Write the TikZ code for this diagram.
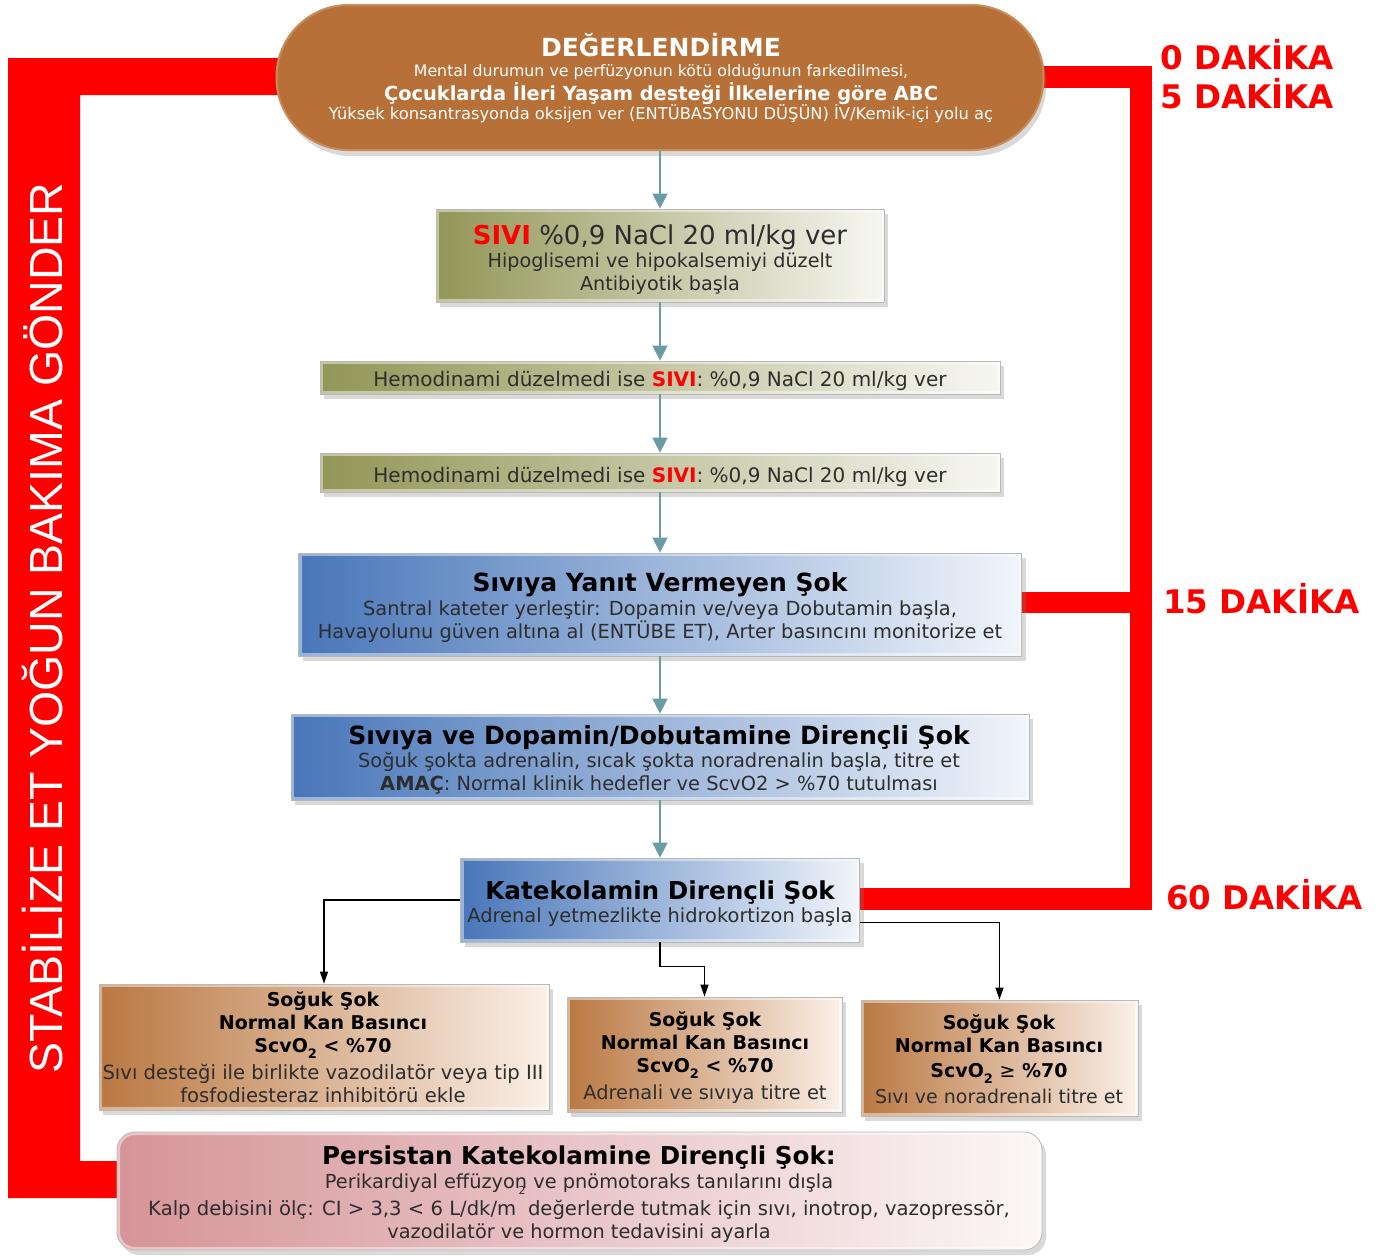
\documentclass[tikz,border=0pt]{standalone}
\usepackage{fontspec}
\setmainfont{DejaVu Sans}
\newfontfamily\libsans{Liberation Sans}
\usetikzlibrary{arrows.meta,shadows}
\newcommand\myfs[1]{\fontsize{#1}{#1}\selectfont}
\definecolor{copper}{RGB}{183,112,56}
\definecolor{copperedge}{RGB}{200,140,90}
\definecolor{olL}{RGB}{146,150,86}
\definecolor{olR}{RGB}{247,247,242}
\definecolor{blL}{RGB}{72,118,185}
\definecolor{blR}{RGB}{241,245,251}
\definecolor{brL}{RGB}{186,120,66}
\definecolor{brR}{RGB}{251,240,232}
\definecolor{pkL}{RGB}{214,148,152}
\definecolor{pkR}{RGB}{252,247,247}
\definecolor{teal1}{RGB}{106,156,166}
\definecolor{dtxt}{RGB}{45,45,45}
\tikzset{
  panel/.style={rectangle, inner sep=0pt, draw=gray!55, line width=0.8pt,
    drop shadow={shadow xshift=4pt, shadow yshift=-5pt, opacity=0.3},
    path picture={\draw[white, opacity=0.45, line width=6pt]
      (path picture bounding box.south west) rectangle (path picture bounding box.north east);}},
  pill/.style={rectangle, inner sep=0pt, rounded corners=72pt, fill=copper,
    draw=copperedge, line width=2pt,
    drop shadow={shadow xshift=3pt, shadow yshift=-6pt, opacity=0.3}},
  olive/.style={panel, left color=olL, right color=olR},
  bluebox/.style={panel, left color=blL, right color=blR},
  brownbox/.style={panel, left color=brL, right color=brR},
  pinkbox/.style={panel, rounded corners=18pt, left color=pkL, right color=pkR},
  tl/.style={inner sep=0pt, anchor=base, text=dtxt},
  tt/.style={inner sep=0pt, anchor=base, text=black},
  wl/.style={inner sep=0pt, anchor=base, text=white},
  dak/.style={inner sep=0pt, anchor=base west, text=red, font={\myfs{32.5}\bfseries}},
  flow/.style={draw=teal1, line width=1.6pt, -{Triangle[width=15pt,length=15pt]}},
  conn/.style={draw=black, line width=1.2pt, -{Triangle[width=8pt,length=12pt]}},
}
\newcommand\sivi{\textcolor{red}{\bfseries SIVI}}
\newcommand\subtwo{\raisebox{-0.35em}{\myfs{13}2}}
\begin{document}
\begin{tikzpicture}[x=1pt,y=-1pt]
\useasboundingbox (0,0) rectangle (1379,1256);
% red brackets
\fill[red] (8,58) -- (278,58) -- (278,95) -- (80,95) -- (80,1161) -- (122,1161) -- (122,1198) -- (8,1198) -- cycle;
\fill[red] (1040,66) rectangle (1152,88);
\fill[red] (1130,66) rectangle (1152,910);
\fill[red] (1018,592) rectangle (1140,613);
\fill[red] (856,888) rectangle (1140,910);
\node[rotate=90, inner sep=0pt, anchor=base, text=white, font={\libsans\myfs{46.5}}] (stab) at (62,628) {STABİLİZE ET YOĞUN BAKIMA GÖNDER};
% time labels
\node[dak] (d0) at (1160,69) {0 DAKİKA};
\node[dak] (d5) at (1160,108) {5 DAKİKA};
\node[dak] (d15) at (1163,613) {15 DAKİKA};
\node[dak] (d60) at (1166,909) {60 DAKİKA};
% boxes
\node[pill, minimum width=767pt, minimum height=145pt] (top) at (660,77.5) {};
\node[olive, minimum width=448pt, minimum height=93pt] (sivibox) at (660,255.5) {};
\node[olive, minimum width=680pt, minimum height=33pt] (bar1) at (660,377.5) {};
\node[olive, minimum width=680pt, minimum height=39pt] (bar2) at (660,472.5) {};
\node[bluebox, minimum width=723pt, minimum height=103pt] (blue1) at (660,604.5) {};
\node[bluebox, minimum width=738pt, minimum height=86pt] (blue2) at (660,757) {};
\node[bluebox, minimum width=399pt, minimum height=84pt] (kat) at (660,900) {};
\node[brownbox, minimum width=450pt, minimum height=126pt] (b1) at (324,1047) {};
\node[brownbox, minimum width=275pt, minimum height=115pt] (b2) at (704.5,1054.5) {};
\node[brownbox, minimum width=277pt, minimum height=116pt] (b3) at (999.5,1058) {};
\node[pinkbox, minimum width=925pt, minimum height=118pt] (pink) at (579.5,1191) {};
% flow arrows
\draw[flow] (top.south) -- (sivibox.north);
\draw[flow] (sivibox.south) -- (bar1.north);
\draw[flow] (bar1.south) -- (bar2.north);
\draw[flow] (bar2.south) -- (blue1.north);
\draw[flow] (blue1.south) -- (blue2.north);
\draw[flow] (blue2.south) -- (kat.north);
% black connectors
\draw[conn] (kat.west) -| (b1.north);
\draw[conn] (kat.south) -- ++(0,24) -| (b2.north);
\path (kat.south east) ++(0,-20) coordinate (kr);
\draw[conn] (kr) -| (b3.north);
% top texts
\node[wl, font={\myfs{25}\bfseries}] (t1) at (661,56) {DEĞERLENDİRME};
\node[wl, font={\myfs{15.8}}] (t2) at (661,76) {Mental durumun ve perfüzyonun kötü olduğunun farkedilmesi,};
\node[wl, font={\myfs{19.4}\bfseries}] (t3) at (661,100) {Çocuklarda İleri Yaşam desteği İlkelerine göre ABC};
\node[wl, font={\myfs{16.3}}] (t4) at (661,119) {Yüksek konsantrasyonda oksijen ver (ENTÜBASYONU DÜŞÜN) İV/Kemik-içi yolu aç};
% sivi box
\node[tl, font={\myfs{26}}] (s1) at (660,244) {\sivi\ \%0,9 NaCl 20 ml/kg ver};
\node[tl, font={\myfs{19.2}}] (s2) at (660,267) {Hipoglisemi ve hipokalsemiyi düzelt};
\node[tl, font={\myfs{19.2}}] (s3) at (660,290) {Antibiyotik başla};
% bars
\node[tl, font={\myfs{20}}] (h1) at (660,386) {Hemodinami düzelmedi ise \sivi: \%0,9 NaCl 20 ml/kg ver};
\node[tl, font={\myfs{20}}] (h2) at (660,482) {Hemodinami düzelmedi ise \sivi: \%0,9 NaCl 20 ml/kg ver};
% blue 1
\node[tt, font={\myfs{25}\bfseries}] (u1) at (660,591) {Sıvıya Yanıt Vermeyen Şok};
\node[tl, font={\myfs{19.4}}] (u2) at (660,615) {Santral kateter yerleştir: Dopamin ve/veya Dobutamin başla,};
\node[tl, font={\myfs{19.4}}] (u3) at (660,638) {Havayolunu güven altına al (ENTÜBE ET), Arter basıncını monitorize et};
% blue 2
\node[tt, font={\myfs{25.1}\bfseries}] (v1) at (659,744) {Sıvıya ve Dopamin/Dobutamine Dirençli Şok};
\node[tl, font={\myfs{19.4}}] (v2) at (659,767) {Soğuk şokta adrenalin, sıcak şokta noradrenalin başla, titre et};
\node[tl, font={\myfs{19.4}}] (v3) at (659,790) {\textbf{AMAÇ}: Normal klinik hedefler ve ScvO2 > \%70 tutulması};
% kat
\node[tt, font={\myfs{24.7}\bfseries}] (k1) at (660,899) {Katekolamin Dirençli Şok};
\node[tl, font={\myfs{19.4}}] (k2) at (660,922) {Adrenal yetmezlikte hidrokortizon başla};
% b1
\node[tt, font={\myfs{19}\bfseries}] (a1) at (323,1006) {Soğuk Şok};
\node[tt, font={\myfs{19}\bfseries}] (a2) at (323,1029) {Normal Kan Basıncı};
\node[tt, font={\myfs{19}\bfseries}] (a3) at (323,1052) {ScvO\subtwo\ < \%70};
\node[tl, font={\myfs{19.6}}] (a4) at (323,1079) {Sıvı desteği ile birlikte vazodilatör veya tip III};
\node[tl, font={\myfs{19.6}}] (a5) at (323,1102) {fosfodiesteraz inhibitörü ekle};
% b2
\node[tt, font={\myfs{19}\bfseries}] (c1) at (705,1026) {Soğuk Şok};
\node[tt, font={\myfs{19}\bfseries}] (c2) at (705,1049) {Normal Kan Basıncı};
\node[tt, font={\myfs{19}\bfseries}] (c3) at (705,1072) {ScvO\subtwo\ < \%70};
\node[tl, font={\myfs{19.4}}] (c4) at (705,1099) {Adrenali ve sıvıya titre et};
% b3
\node[tt, font={\myfs{19}\bfseries}] (e1) at (999,1029) {Soğuk Şok};
\node[tt, font={\myfs{19}\bfseries}] (e2) at (999,1052) {Normal Kan Basıncı};
\node[tt, font={\myfs{19}\bfseries}] (e3) at (999,1077) {ScvO\subtwo\ {\mdseries ≥} \%70};
\node[tl, font={\myfs{19}}] (e4) at (999,1103) {Sıvı ve noradrenali titre et};
% pink
\node[tt, font={\myfs{24.6}\bfseries}] (p1) at (579,1164) {Persistan Katekolamine Dirençli Şok:};
\node[tl, font={\myfs{19.35}}] (p2) at (579,1188) {Perikardiyal effüzyon ve pnömotoraks tanılarını dışla};
\node[tl, font={\myfs{11}}] (p2b) at (522,1194) {2};
\node[tl, font={\myfs{19.6}}] (p3) at (579,1215) {Kalp debisini ölç: CI > 3,3 < 6 L/dk/m\hspace{0.6em}değerlerde tutmak için sıvı, inotrop, vazopressör,};
\node[tl, font={\myfs{19.3}}] (p4) at (579,1238) {vazodilatör ve hormon tedavisini ayarla};
\end{tikzpicture}
\end{document}
